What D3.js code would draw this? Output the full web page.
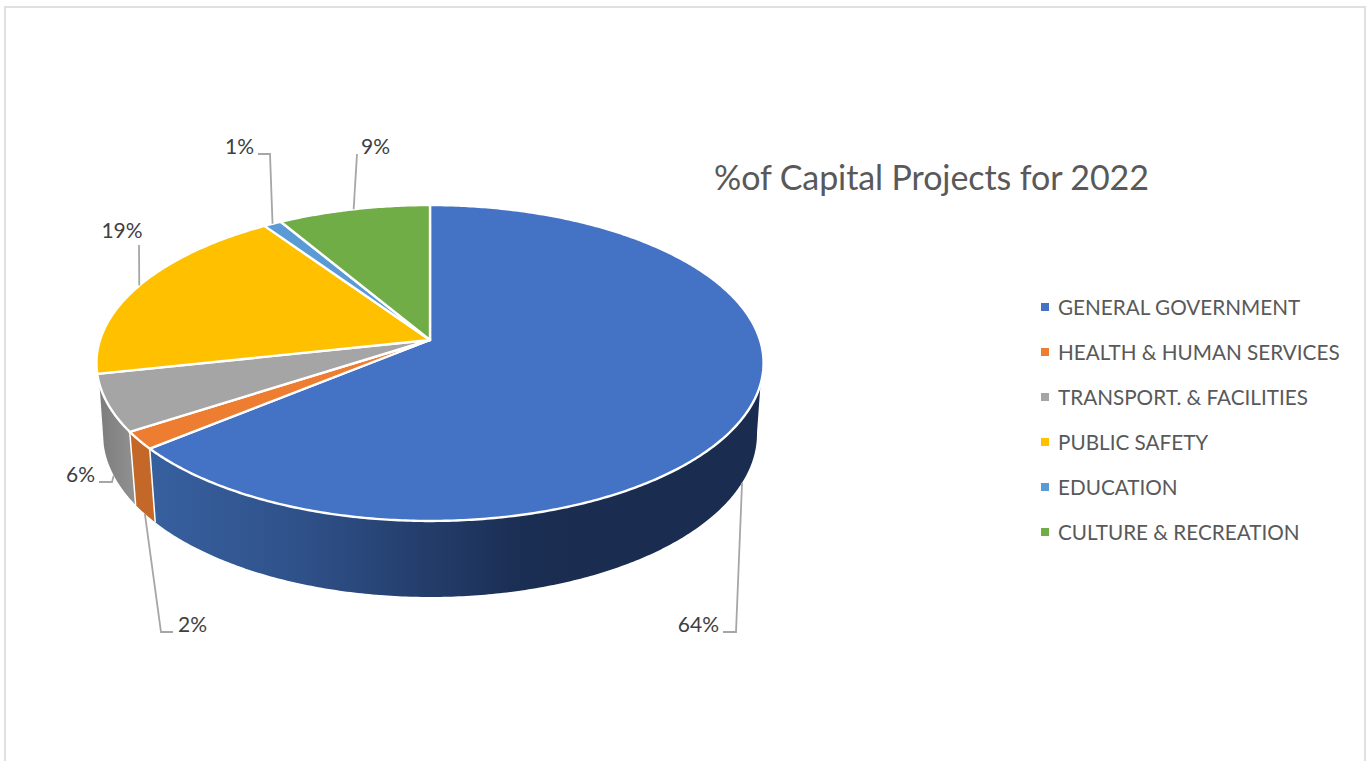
<!DOCTYPE html>
<html>
<head>
<meta charset="utf-8">
<script src="https://cdn.jsdelivr.net/npm/d3@7"></script>
<style>
	body { margin: 0; background: #fff; overflow: hidden; }
	text { font-family: Lato, "Open Sans", sans-serif; }
	.title { font-size: 34px; letter-spacing: -0.1px; fill: #595959; }
	.legend text { font-size: 20.7px; fill: #595959; }
	.pct { font-size: 21px; fill: #404040; }
	.leader { fill: none; stroke: #a6a6a6; stroke-width: 1.8; }
</style>
</head>
<body>
<svg id="svg" width="1367" height="761"></svg>
<script>
	var categories = ['GENERAL GOVERNMENT', 'HEALTH & HUMAN SERVICES', 'TRANSPORT. & FACILITIES', 'PUBLIC SAFETY', 'EDUCATION', 'CULTURE & RECREATION'];
	var values = [64.0, 1.8, 5.8, 18.9, 1.0, 8.5];
	var colors = ['#4472c4', '#ed7d31', '#a5a5a5', '#ffc000', '#5b9bd5', '#70ad47'];
	var title = '%of Capital Projects for 2022';

	var svg = d3.select('#svg');
	var defs = svg.append('defs');

	// page border, runs off the bottom of the window
	svg.append('path')
		.attr('d', 'M5,761V7H1365V761')
		.attr('fill', 'none')
		.attr('stroke', '#e0e0e0')
		.attr('stroke-width', 2);

	// perspective of the tilted disc
	var cx = 430, k = 0.1456;
	var topRim = { cy: 340, rx: 330, ry: 154.6 };
	var lowRim = { cy: 410.3, rx: 323.5, ry: 159.5 };

	function project(rim, a) {
		var u = Math.sin(a), v = -Math.cos(a), w = 1 - k * v;
		return [cx + rim.rx * u / w, rim.cy + rim.ry * v / w];
	}

	function arcPoints(rim, a0, a1) {
		var n = Math.max(2, Math.ceil((a1 - a0) / 0.01));
		return d3.range(n + 1).map(i => project(rim, a0 + (a1 - a0) * i / n));
	}

	var line = d3.line();
	var pie = d3.pie().sort(null).value(d => d);
	var arcs = pie(values);
	var deg = Math.PI / 180;

	// walls are only seen between these angles, top and bottom rim differ a bit
	function wallPath(d) {
		var t0 = Math.max(d.startAngle, 106 * deg), t1 = Math.min(d.endAngle, 254 * deg);
		var b0 = Math.max(d.startAngle, 98 * deg), b1 = Math.min(d.endAngle, 261 * deg);
		return line(arcPoints(topRim, t0, t1).concat(arcPoints(lowRim, b0, b1).reverse())) + 'Z';
	}

	function gradient(id, x0, x1, stops) {
		var g = defs.append('linearGradient').attr('id', id)
			.attr('gradientUnits', 'userSpaceOnUse')
			.attr('x1', x0).attr('x2', x1).attr('y1', 0).attr('y2', 0);
		stops.forEach(s => g.append('stop').attr('offset', s[0]).attr('stop-color', s[1]));
	}
	gradient('blueWall', 150, 760, [[0, '#37609f'], [0.25, '#2f5189'], [0.62, '#1a2d52'], [1, '#1a2d50']]);
	gradient('grayWall', 98, 137, [[0, '#7c7c7c'], [1, '#929292']]);

	var wallFills = ['url(#blueWall)', '#c4682a', 'url(#grayWall)'];

	svg.append('g').selectAll('path')
		.data(arcs.slice(0, 3))
		.join('path')
		.attr('d', wallPath)
		.attr('fill', (d, i) => wallFills[i]);

	// white lines between the wall pieces
	svg.append('g').selectAll('path')
		.data(arcs.slice(0, 2))
		.join('path')
		.attr('d', d => line([project(topRim, d.endAngle), project(lowRim, d.endAngle)]))
		.attr('stroke', '#fff')
		.attr('stroke-width', 1.5);

	// top faces
	svg.append('g').selectAll('path')
		.data(arcs)
		.join('path')
		.attr('d', d => line([[cx, topRim.cy]].concat(arcPoints(topRim, d.startAngle, d.endAngle))) + 'Z')
		.attr('fill', (d, i) => colors[i])
		.attr('stroke', '#fff')
		.attr('stroke-width', 2.4)
		.attr('stroke-linejoin', 'round');

	// leaders start at the middle of each slice, on whichever rim is visible
	var leaderLayout = [
		{ rim: lowRim, bends: [[736, 632], [723, 632]], x: 719, y: 632, anchor: 'end' },
		{ rim: lowRim, bends: [[161, 632], [173, 632]], x: 178, y: 632, anchor: 'start' },
		{ rim: lowRim, bends: [[112, 482], [99, 482]], x: 95, y: 482, anchor: 'end' },
		{ rim: topRim, bends: [[139, 245]], x: 122, y: 238, anchor: 'middle' },
		{ rim: topRim, bends: [[270, 154], [258, 154]], x: 254, y: 154, anchor: 'end' },
		{ rim: topRim, bends: [[357, 154]], x: 361, y: 154, anchor: 'start' }
	];

	var labels = svg.append('g');
	arcs.forEach((d, i) => {
		var l = leaderLayout[i];
		var mid = (d.startAngle + d.endAngle) / 2;
		labels.append('path')
			.attr('class', 'leader')
			.attr('d', line([project(l.rim, mid)].concat(l.bends)));
		labels.append('text')
			.attr('class', 'pct')
			.attr('x', l.x)
			.attr('y', l.y)
			.attr('text-anchor', l.anchor)
			.text(Math.round(d.value) + '%');
	});

	svg.append('text')
		.attr('class', 'title')
		.attr('x', 714)
		.attr('y', 190)
		.text(title);

	var y = d3.scalePoint().domain(categories).range([307, 532]);

	var legend = svg.append('g').attr('class', 'legend')
		.selectAll('g')
		.data(categories)
		.join('g')
		.attr('transform', d => 'translate(0,' + y(d) + ')');

	legend.append('rect')
		.attr('x', 1041)
		.attr('y', -4)
		.attr('width', 8)
		.attr('height', 8)
		.attr('fill', (d, i) => colors[i]);

	legend.append('text')
		.attr('x', 1058)
		.attr('y', 8)
		.text(d => d);
</script>
</body>
</html>
